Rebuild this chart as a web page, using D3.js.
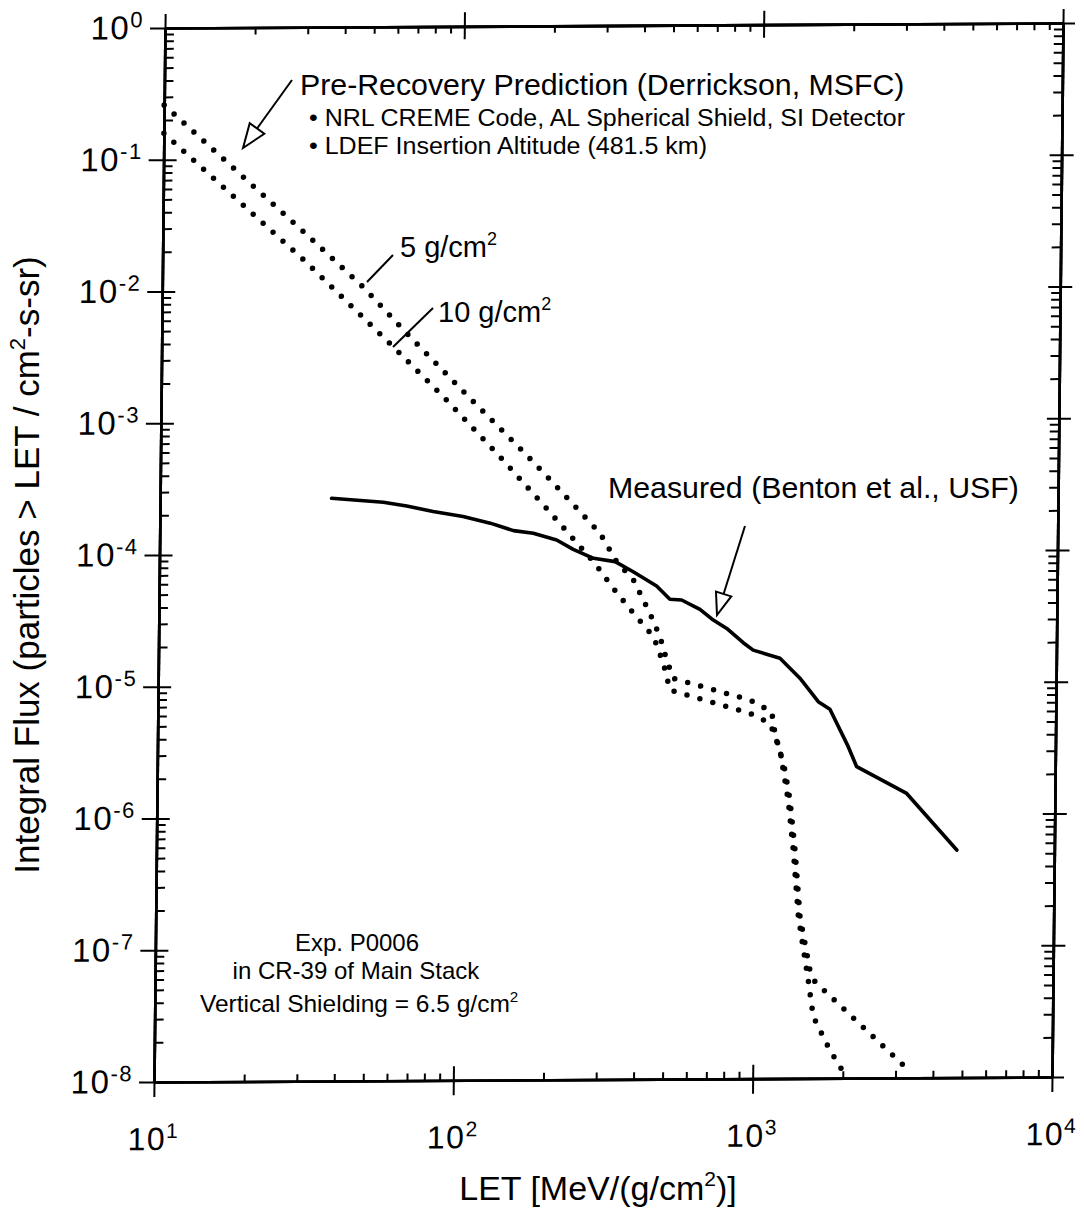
<!DOCTYPE html>
<html><head><meta charset="utf-8">
<script src="https://cdn.jsdelivr.net/npm/d3@7"></script>
<style>
body{margin:0;background:#fff;}
svg{display:block;font-family:"Liberation Sans",Arial,Helvetica,sans-serif;}
.ax .domain{stroke:#000;stroke-width:2.6;}
.ax line{stroke:#000;stroke-width:2;}
</style></head><body>
<svg id="chart" width="1084" height="1210"></svg>
<script>
// ---- data ----
const measuredLET  = [37.4, 55.7, 66.7, 81.8, 103, 127, 152, 177, 212, 241, 282, 333, 383, 459, 509, 557, 642, 712, 790, 898, 970, 1193, 1393, 1607, 1759, 2031, 2171, 3196, 4721];
const measuredFlux = [2.65e-4, 2.46e-4, 2.30e-4, 2.08e-4, 1.90e-4, 1.69e-4, 1.48e-4, 1.41e-4, 1.25e-4, 1.06e-4, 9.05e-5, 8.52e-5, 7.13e-5, 5.54e-5, 4.39e-5, 4.33e-5, 3.67e-5, 3.04e-5, 2.62e-5, 2.04e-5, 1.79e-5, 1.55e-5, 1.09e-5, 7.22e-6, 6.32e-6, 3.28e-6, 2.31e-6, 1.44e-6, 5.33e-7];

const pred5LET  = [10, 29.9, 47, 67.5, 105, 167, 206, 296, 337, 384, 437, 473, 499, 526, 950, 1124, 1155, 1250, 1303, 1360, 1421, 1540, 1603, 3181];
const pred5Flux = [0.26, 0.0273, 0.01055, 0.00443, 0.00159, 5.54e-4, 3.37e-4, 1.40e-4, 8.51e-5, 6.17e-5, 3.44e-5, 2.29e-5, 1.52e-5, 1.10e-5, 7.49e-6, 6.09e-6, 4.18e-6, 2.20e-6, 1.30e-6, 5.42e-7, 1.69e-7, 6.64e-8, 5.41e-8, 1.25e-8];

const pred10LET  = [10, 29.9, 59.4, 87.7, 134.5, 191, 285, 329, 385, 450, 487, 513, 951, 1111, 1202, 1285, 1342, 1403, 1521, 1586, 1806, 2034];
const pred10Flux = [0.159, 0.0168, 0.00372, 0.001546, 5.55e-4, 2.31e-4, 8.29e-5, 5.35e-5, 3.45e-5, 2.29e-5, 1.43e-5, 8.98e-6, 5.93e-6, 4.98e-6, 3.11e-6, 1.30e-6, 5.42e-7, 1.69e-7, 5.58e-8, 2.94e-8, 1.64e-8, 1.06e-8];

const xTickValues = [10, 100, 1000, 10000];
const xTickExponents = ["1", "2", "3", "4"];
const yTickValues = [1, 1e-1, 1e-2, 1e-3, 1e-4, 1e-5, 1e-6, 1e-7, 1e-8];
const yTickExponents = ["0", "-1", "-2", "-3", "-4", "-5", "-6", "-7", "-8"];

// ---- layout ----
const W = 898, H = 1054;
const svg = d3.select("#chart");
svg.append("rect").attr("width",1084).attr("height",1210).attr("fill","#fff");
// slight skew of the scanned original
const g = svg.append("g").attr("transform", "matrix(1,-0.00557,-0.01044,1,165,28)");

const x = d3.scaleLog().domain([10, 1e4]).range([0, W]);
const y = d3.scaleLog().domain([1e-8, 1]).range([H, 0]);

const minorX = [];
[1, 2, 3].forEach(d => { for (let k = 2; k <= 9; k++) minorX.push(k * Math.pow(10, d)); });
const minorY = [];
[-8, -7, -6, -5, -4, -3, -2, -1].forEach(d => { for (let k = 2; k <= 9; k++) minorY.push(k * Math.pow(10, d)); });

function ax(tr, gen, vals, size) {
  g.append("g").attr("class", "ax").attr("transform", tr)
    .call(gen.tickValues(vals).tickSize(size).tickSizeOuter(0).tickFormat(""));
}
// bottom
ax(`translate(0,${H})`, d3.axisBottom(x), xTickValues, 15);
ax(`translate(0,${H})`, d3.axisTop(x), xTickValues, 14);
ax(`translate(0,${H})`, d3.axisTop(x), minorX, 7);
// top
ax(`translate(0,0)`, d3.axisTop(x), xTickValues, 14);
ax(`translate(0,0)`, d3.axisBottom(x), xTickValues, 13);
ax(`translate(0,0)`, d3.axisBottom(x), minorX, 7);
// left
ax(`translate(0,0)`, d3.axisLeft(y), yTickValues, 15);
ax(`translate(0,0)`, d3.axisRight(y), yTickValues, 13);
ax(`translate(0,0)`, d3.axisRight(y), minorY, 9);
// right
ax(`translate(${W},0)`, d3.axisRight(y), yTickValues, 12);
ax(`translate(${W},0)`, d3.axisLeft(y), yTickValues, 12);
ax(`translate(${W},0)`, d3.axisLeft(y), minorY, 9);
g.selectAll(".ax text").remove();

// tick labels
xTickValues.forEach((v, i) => {
  const t = g.append("text").attr("x", x(v)).attr("y", H + 68)
    .attr("text-anchor", "middle").attr("font-size", 32).attr("letter-spacing", 1.5);
  t.append("tspan").text("10");
  t.append("tspan").attr("dy", -12).attr("font-size", 21).text(xTickExponents[i]);
});
yTickValues.forEach((v, i) => {
  const t = g.append("text").attr("x", -21).attr("y", y(v) + 11)
    .attr("text-anchor", "end").attr("font-size", 33).attr("letter-spacing", 1.5);
  t.append("tspan").text("10");
  t.append("tspan").attr("dy", -12).attr("font-size", 22).text(yTickExponents[i]);
});

// curves
const line = d3.line().x(d => x(d[0])).y(d => y(d[1]));
const zip = (a, b) => a.map((v, i) => [v, b[i]]);
g.append("path").datum(zip(pred5LET, pred5Flux)).attr("d", line)
  .attr("fill", "none").attr("stroke", "#000").attr("stroke-width", 5.5)
  .attr("stroke-linecap", "round").attr("stroke-dasharray", "0 13.5");
g.append("path").datum(zip(pred10LET, pred10Flux)).attr("d", line)
  .attr("fill", "none").attr("stroke", "#000").attr("stroke-width", 5.5)
  .attr("stroke-linecap", "round").attr("stroke-dasharray", "0 13.5");
g.append("path").datum(zip(measuredLET, measuredFlux)).attr("d", line)
  .attr("fill", "none").attr("stroke", "#000").attr("stroke-width", 3.6)
  .attr("stroke-linejoin", "round").attr("stroke-linecap", "round");

// ---- annotations (page coordinates) ----
function txt(xp, yp, s, size, anchor) {
  return svg.append("text").attr("x", xp).attr("y", yp).attr("font-size", size)
    .attr("text-anchor", anchor || "start").attr("fill", "#000").text(s);
}
function txtSup(xp, yp, before, sup, after, size, anchor) {
  const t = svg.append("text").attr("x", xp).attr("y", yp).attr("font-size", size)
    .attr("text-anchor", anchor || "start").attr("fill", "#000");
  t.append("tspan").text(before);
  t.append("tspan").attr("dy", -size * 0.42).attr("font-size", size * 0.62).text(sup);
  if (after) t.append("tspan").attr("dy", size * 0.42).text(after);
  return t;
}
function arrow(x1, y1, x2, y2, len, half) {
  const dx = x2 - x1, dy = y2 - y1, L = Math.hypot(dx, dy);
  const ux = dx / L, uy = dy / L, px = -uy, py = ux;
  const bx = x2 - ux * len, by = y2 - uy * len;
  svg.append("line").attr("x1", x1).attr("y1", y1).attr("x2", bx).attr("y2", by)
    .attr("stroke", "#000").attr("stroke-width", 2);
  svg.append("path").attr("d", `M${x2},${y2}L${bx + px * half},${by + py * half}L${bx - px * half},${by - py * half}Z`)
    .attr("fill", "#fff").attr("stroke", "#000").attr("stroke-width", 2).attr("stroke-linejoin", "miter");
}

txt(300, 95, "Pre-Recovery Prediction (Derrickson, MSFC)", 30.3);
txt(309, 126, "• NRL CREME Code, AL Spherical Shield, SI Detector", 23.5)
  .attr("textLength", 596).attr("lengthAdjust", "spacingAndGlyphs");
txt(309, 154, "• LDEF Insertion Altitude (481.5 km)", 23.5)
  .attr("textLength", 398).attr("lengthAdjust", "spacingAndGlyphs");
arrow(292, 80, 243, 148, 24, 9);

txtSup(400, 257, "5 g/cm", "2", null, 29);
svg.append("line").attr("x1", 393).attr("y1", 255).attr("x2", 367).attr("y2", 282)
  .attr("stroke", "#000").attr("stroke-width", 2);
txtSup(438, 322, "10 g/cm", "2", null, 29);
svg.append("line").attr("x1", 433).attr("y1", 308).attr("x2", 393).attr("y2", 347)
  .attr("stroke", "#000").attr("stroke-width", 2);

txt(608, 498, "Measured (Benton et al., USF)", 30.3);
arrow(745, 526, 717, 615, 22, 8);

txt(357, 951, "Exp.  P0006", 24, "middle");
txt(356, 979, "in CR-39 of Main Stack", 24, "middle");
txtSup(200, 1012, "Vertical Shielding = 6.5 g/cm", "2", null, 24.5);

// axis titles
txtSup(598, 1200, "LET [MeV/(g/cm", "2", ")]", 34, "middle");
const yt = svg.append("text").attr("transform", "translate(39,565) rotate(-90)")
  .attr("text-anchor", "middle").attr("font-size", 35);
yt.append("tspan").text("Integral Flux (particles > LET / cm");
yt.append("tspan").attr("dy", -14).attr("font-size", 22).text("2");
yt.append("tspan").attr("dy", 14).text("-s-sr)");
</script>
</body></html>
